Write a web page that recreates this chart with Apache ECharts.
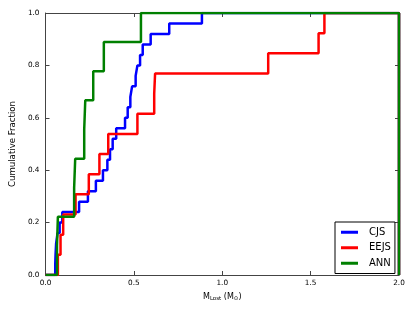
<!DOCTYPE html>
<html>
<head>
<meta charset="utf-8">
<script src="https://cdn.jsdelivr.net/npm/echarts@6/dist/echarts.min.js"></script>
<style>html,body{margin:0;padding:0;background:#fff}#c{width:415px;height:312px}</style>
</head>
<body>
<div id="c"></div>
<script>
// ---- data ----
const seriesNames = ['CJS', 'EEJS', 'ANN'];
const xTicks = ['0.0', '0.5', '1.0', '1.5', '2.0'];
const yTicks = ['0.0', '0.2', '0.4', '0.6', '0.8', '1.0'];

const cjsX = [0.055, 0.057, 0.060, 0.068, 0.080, 0.095, 0.19, 0.24, 0.285, 0.325, 0.35, 0.365, 0.38, 0.40,
              0.45, 0.465, 0.48, 0.49, 0.51, 0.52, 0.535, 0.55, 0.595, 0.70, 0.885];
const cjsY = [0.04, 0.08, 0.12, 0.16, 0.20, 0.24, 0.28, 0.32, 0.36, 0.40, 0.44, 0.48, 0.52, 0.56,
              0.60, 0.64, 0.68, 0.72, 0.76, 0.80, 0.84, 0.88, 0.92, 0.96, 1.00];

const eejsX = [0.07, 0.085, 0.10, 0.17, 0.245, 0.305, 0.355, 0.52, 0.615, 0.62, 1.26, 1.545, 1.578];
const eejsY = [0.077, 0.154, 0.231, 0.308, 0.385, 0.462, 0.538, 0.615, 0.692, 0.769, 0.846, 0.923, 1.00];

const annX = [0.065, 0.07, 0.162, 0.168, 0.219, 0.225, 0.27, 0.33, 0.54];
const annY = [0.111, 0.222, 0.333, 0.444, 0.556, 0.667, 0.778, 0.889, 1.00];

const colors = ['#0000ff', '#ff0000', '#008000'];

function buildSteps(xs, ys) {
  const pts = [[0, 0]];
  for (let i = 0; i < xs.length; i++) pts.push([xs[i], ys[i]]);
  pts.push([2, 1]);
  pts.push([2, 0]);
  return pts;
}

const chart = echarts.init(document.getElementById('c'), null, {renderer: 'canvas'});
const font = 'DejaVu Sans';
const axisLineStyle = {color: '#444', width: 1};

const baseX = {
  type: 'value', min: 0, max: 2, interval: 0.5,
  axisLine: {show: true, lineStyle: axisLineStyle, onZero: false},
  axisTick: {show: true, inside: true, length: 4, lineStyle: {color: '#444'}},
  splitLine: {show: false}
};
const baseY = {
  type: 'value', min: 0, max: 1, interval: 0.2,
  axisLine: {show: true, lineStyle: axisLineStyle, onZero: false},
  axisTick: {show: true, inside: true, length: 4, lineStyle: {color: '#444'}},
  splitLine: {show: false}
};

chart.setOption({
  animation: false,
  textStyle: {fontFamily: font},
  grid: {left: 37, right: 16, top: 13, bottom: 37, containLabel: false},
  xAxis: [
    Object.assign({}, baseX, {
      position: 'bottom',
      axisLabel: {fontFamily: font, fontSize: 7.3, color: '#000', margin: 5,
        formatter: v => xTicks[Math.round(v / 0.5)]},
      name: 'M{s|Lost} (M{s|⊙})',
      nameLocation: 'middle', nameGap: 17,
      nameTextStyle: {fontFamily: font, fontSize: 8, color: '#000',
        rich: {s: {fontFamily: font, fontSize: 5.5, color: '#000', verticalAlign: 'bottom', padding: [4, 0, 0, 0]}}}
    }),
    Object.assign({}, baseX, {position: 'top', axisLabel: {show: false}})
  ],
  yAxis: [
    Object.assign({}, baseY, {
      position: 'left',
      axisLabel: {fontFamily: font, fontSize: 7.3, color: '#000', margin: 6,
        formatter: v => yTicks[Math.round(v / 0.2)]},
      name: 'Cumulative Fraction', nameLocation: 'middle', nameGap: 21,
      nameTextStyle: {fontFamily: font, fontSize: 8.6, color: '#000'}
    }),
    Object.assign({}, baseY, {position: 'right', axisLabel: {show: false}})
  ],
  legend: {
    orient: 'vertical', left: 335, top: 222,
    padding: [4, 4, 4, 6], itemGap: 3,
    itemWidth: 17, itemHeight: 3, icon: 'rect',
    borderColor: '#000', borderWidth: 1, backgroundColor: '#fff',
    textStyle: {fontFamily: font, fontSize: 10, color: '#000', padding: [0, 0, 0, 6], lineHeight: 12.5},
    data: seriesNames
  },
  series: [
    {name: seriesNames[0], type: 'line', step: 'end', showSymbol: false, color: colors[0],
     lineStyle: {width: 2.5, color: colors[0]}, data: buildSteps(cjsX, cjsY)},
    {name: seriesNames[1], type: 'line', step: 'end', showSymbol: false, color: colors[1],
     lineStyle: {width: 2.5, color: colors[1]}, data: buildSteps(eejsX, eejsY)},
    {name: seriesNames[2], type: 'line', step: 'end', showSymbol: false, color: colors[2],
     lineStyle: {width: 2.5, color: colors[2]}, data: buildSteps(annX, annY)}
  ]
});
</script>
</body>
</html>
